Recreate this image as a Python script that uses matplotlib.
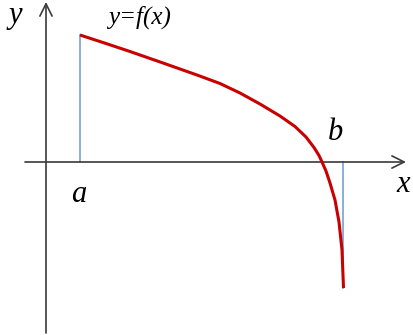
import numpy as np
import matplotlib.pyplot as plt

# curve y=f(x), origin at the crossing of the axes
curve_x = [34, 60, 84, 117, 151, 174, 194, 214, 234, 249, 260, 268, 273, 276,
           280, 284, 289, 293, 296, 297.5]
curve_y = [127, 118.5, 110.5, 99, 87, 78.5, 69, 58, 46, 35.5, 25, 14.5, 6.5, 0,
           -9, -21, -38, -60, -88, -126]

a_x = 34
b_x = 297

fig = plt.figure(figsize=(4.14, 3.35), dpi=100)
ax = fig.add_axes([0, 0, 1, 1])
ax.set_xlim(-46, 368)
ax.set_ylim(-173, 162)
ax.axis('off')

axis_col = '#3a3a3a'
arr = dict(arrowstyle='->', color=axis_col, lw=1.2, mutation_scale=22, shrinkA=0, shrinkB=0)
ax.annotate('', xy=(360, 0), xytext=(-21, 0), arrowprops=arr)
ax.annotate('', xy=(0, 160), xytext=(0, -171), arrowprops=arr)

ax.plot([a_x, a_x], [0, curve_y[0]], color='#7fa8d8', lw=1.3, zorder=2)
ax.plot([b_x, b_x], [0, curve_y[-1]], color='#7fa8d8', lw=1.3, zorder=2)
ax.plot(curve_x, curve_y, color='#c80000', lw=2.2, zorder=3,
        solid_capstyle='butt', solid_joinstyle='round')

font = dict(family='Liberation Serif', style='italic', color='black')
ax.text(-31, 146, 'y', fontsize=22, ha='center', va='center', **font)
ax.text(94, 145, 'y=f(x)', fontsize=18, ha='center', va='center', **font)
ax.text(33, -33, 'a', fontsize=22, ha='center', va='center', **font)
ax.text(289, 30, 'b', fontsize=22, ha='center', va='center', **font)
ax.text(357, -22, 'x', fontsize=22, ha='center', va='center', **font)

fig.savefig('out.png', dpi=100)
